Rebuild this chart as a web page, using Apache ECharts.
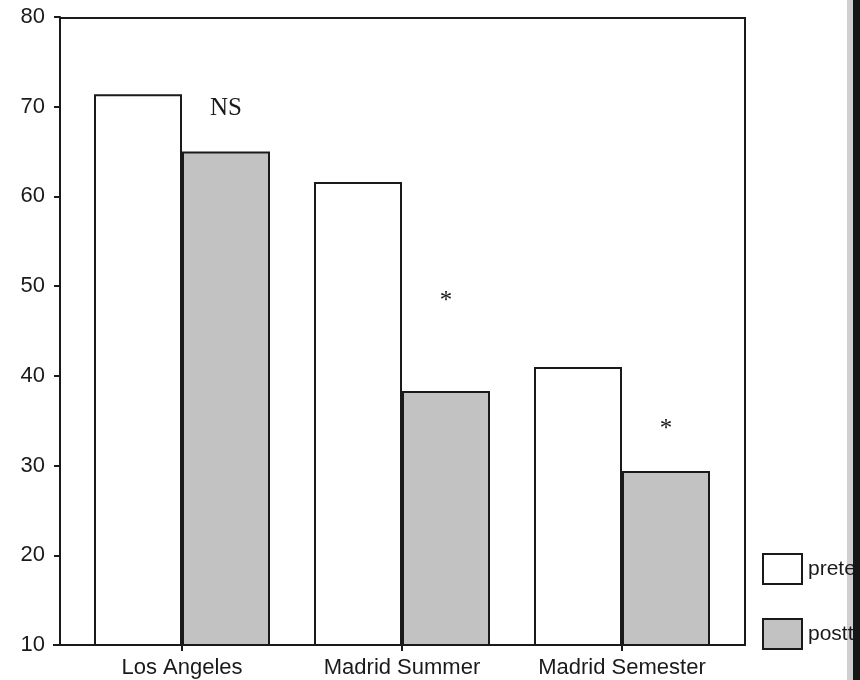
<!DOCTYPE html>
<html>
<head>
<meta charset="utf-8">
<script src="https://cdn.jsdelivr.net/npm/echarts@6/dist/echarts.min.js"></script>
<style>
  html, body { margin: 0; padding: 0; background: #fff; }
  #chart { width: 860px; height: 680px; }
</style>
</head>
<body>
<div id="chart"></div>
<script>
// Sites compared before and after the programme
const categories = ['Los Angeles', 'Madrid Summer', 'Madrid Semester'];
const pretest = [71.4, 61.6, 41.0];
const posttest = [65.0, 38.3, 29.4];
const seriesNames = ['pretest', 'posttest'];

// Significance markers placed above the posttest bars
const markerText = ['NS', '*', '*'];
const markerLevel = [69.8, 48.3, 34.0];

const yTicks = { min: 10, max: 80, interval: 10 };

const ink = '#1a1a1a';
const sans = 'Liberation Sans, Arial';
const chart = echarts.init(document.getElementById('chart'));

chart.setOption({
  animation: false,
  backgroundColor: '#ffffff',
  grid: { left: 72, right: 128, top: 17, bottom: 35, containLabel: false },
  legend: {
    orient: 'vertical',
    left: 762,
    top: 553,
    padding: 0,
    itemWidth: 39,
    itemHeight: 30,
    itemGap: 33,
    icon: 'rect',
    z: 10,
    textStyle: { fontFamily: sans, fontSize: 21, color: ink, padding: [5, 0, 0, 1] },
    data: seriesNames
  },
  xAxis: {
    type: 'category',
    data: categories,
    axisLine: { show: false },
    axisTick: { show: true, alignWithLabel: true, length: 6, lineStyle: { color: ink, width: 2 } },
    axisLabel: { margin: 12, fontFamily: sans, fontSize: 22, color: ink }
  },
  yAxis: {
    type: 'value',
    min: yTicks.min,
    max: yTicks.max,
    interval: yTicks.interval,
    offset: 12,
    splitLine: { show: false },
    axisLine: { show: true, lineStyle: { color: ink, width: 2 } },
    axisTick: { show: true, length: 6, lineStyle: { color: ink, width: 2 } },
    axisLabel: { margin: 15, fontFamily: sans, fontSize: 22, color: ink }
  },
  series: [
    {
      name: seriesNames[0],
      type: 'bar',
      data: pretest,
      barGap: '0%',
      barCategoryGap: '20%',
      itemStyle: { color: '#ffffff', borderColor: ink, borderWidth: 2 }
    },
    {
      name: seriesNames[1],
      type: 'bar',
      data: posttest,
      barGap: '0%',
      barCategoryGap: '20%',
      itemStyle: { color: '#c2c2c2', borderColor: ink, borderWidth: 2 }
    },
    {
      type: 'scatter',
      symbolSize: 0,
      silent: true,
      itemStyle: { opacity: 1 },
      data: markerText.map((t, i) => ({ value: [i, markerLevel[i]], name: t })),
      label: {
        show: true,
        position: 'inside',
        offset: [44, 0],
        formatter: p => p.name,
        fontFamily: 'Liberation Serif, Times New Roman',
        fontSize: 25,
        color: ink
      },
      z: 5
    }
  ],
  graphic: [
    // page shadow behind the legend text
    {
      type: 'rect',
      shape: { x: 847, y: 0, width: 6, height: 680 },
      style: { fill: '#cfcfcf' },
      z: 0
    },
    // plot frame
    {
      type: 'rect',
      shape: { x: 60, y: 18, width: 685, height: 627 },
      style: { fill: 'none', stroke: ink, lineWidth: 2 },
      z: 10
    },
    // x-axis extension to the left of the frame (bottom tick)
    {
      type: 'line',
      shape: { x1: 53, y1: 645, x2: 60, y2: 645 },
      style: { stroke: ink, lineWidth: 2 },
      z: 10
    },
    // dark page edge along the right side
    {
      type: 'rect',
      shape: { x: 853, y: 0, width: 7, height: 680 },
      style: { fill: '#161616' },
      z: 20
    }
  ]
});
</script>
</body>
</html>
